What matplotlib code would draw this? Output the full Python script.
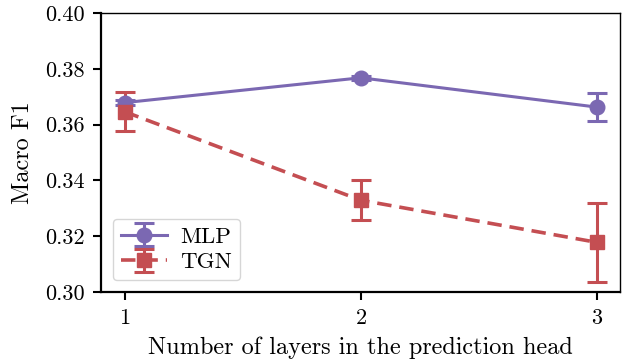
import numpy as np
from matplotlib import pyplot as plt

plt.rcParams['font.family'] = 'serif'
plt.rcParams['font.serif'] = ['cmr10']
plt.rcParams['mathtext.fontset'] = 'cm'
plt.rcParams['axes.formatter.use_mathtext'] = True

layers = np.array([1, 2, 3])
mlp_f1 = np.array([0.3679, 0.3768, 0.3663])
mlp_err = np.array([0.0010, 0.0008, 0.0050])
tgn_f1 = np.array([0.3646, 0.3329, 0.3178])
tgn_err = np.array([0.0070, 0.0072, 0.0142])

fig, ax = plt.subplots(figsize=(6.29, 3.64), dpi=100)
ax.errorbar(layers, mlp_f1, mlp_err,
            color='#7b68b2', linestyle='-', linewidth=2.2,
            marker='o', markersize=10.5, elinewidth=2.2,
            capsize=7.5, capthick=2.2, label='MLP')
ax.errorbar(layers, tgn_f1, tgn_err,
            color='#c44e52', linestyle='--', linewidth=2.6,
            dashes=(4, 2.2),
            marker='s', markersize=10.5, elinewidth=2.2,
            capsize=7.5, capthick=2.2, label='TGN')

ax.set_xlim(0.9, 3.1)
ax.set_ylim(0.30, 0.40)
ax.set_xticks(layers)
ax.set_yticks([0.30, 0.32, 0.34, 0.36, 0.38, 0.40])
ax.set_yticklabels(['0.30', '0.32', '0.34', '0.36', '0.38', '0.40'])
ax.tick_params(labelsize=16, width=1.5, length=6, pad=6)
ax.set_xlabel('Number of layers in the prediction head', fontsize=17.5,
              labelpad=6)
ax.set_ylabel('Macro F1', fontsize=17.5, labelpad=8)
for side in ['left', 'bottom']:
    ax.spines[side].set_linewidth(1.6)
for side in ['top', 'right']:
    ax.spines[side].set_linewidth(1.0)
ax.legend(loc='lower left', fontsize=16.5, handlelength=2.0,
          borderpad=0.35, labelspacing=0.25, handletextpad=0.6)

plt.subplots_adjust(left=0.161, right=0.986, top=0.964, bottom=0.198)
plt.savefig('out.png', dpi=100)
